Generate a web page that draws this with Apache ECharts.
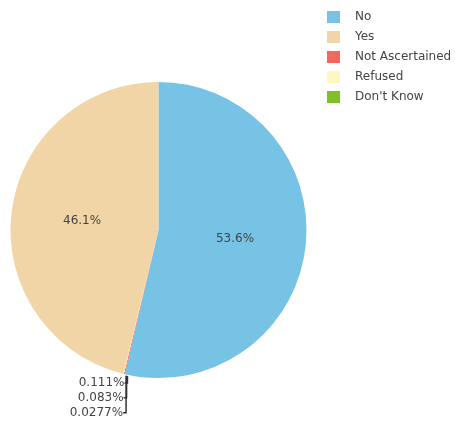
<!DOCTYPE html>
<html>
<head>
<meta charset="utf-8">
<script src="https://cdn.jsdelivr.net/npm/echarts@6/dist/echarts.min.js"></script>
<style>
  html, body { margin: 0; padding: 0; background: #fff; }
  #chart { width: 455px; height: 421px; }
</style>
</head>
<body>
<div id="chart"></div>
<script>
// Response categories in slice order (clockwise from 12 o'clock)
const sliceNames = ['No', 'Not Ascertained', 'Refused', "Don't Know", 'Yes'];
// Share of responses, percent
const sliceValues = [53.64, 0.111, 0.083, 0.0277, 46.14];
// Legend order
const legendNames = ['No', 'Yes', 'Not Ascertained', 'Refused', "Don't Know"];
const sliceColors = {
  'No': '#77c3e6',
  'Yes': '#f1d5a6',
  'Not Ascertained': '#f4685b',
  'Refused': '#fff7c2',
  "Don't Know": '#7fbf27'
};

const total = sliceValues.reduce((a, b) => a + b, 0);
function fmtPct(v) {
  const p = v / total * 100;
  // three significant figures
  return Number(p.toPrecision(3)).toString() + '%';
}

const smallIdx = [];
const data = sliceNames.map((name, i) => {
  const small = sliceValues[i] / total < 0.01;
  if (small) smallIdx.push(i);
  return {
    name: name,
    value: sliceValues[i],
    itemStyle: { color: sliceColors[name] },
    label: {
      show: true,
      position: small ? 'outside' : 'inside',
      formatter: () => fmtPct(sliceValues[i])
    },
    labelLine: { show: small, length: 4, length2: 4 }
  };
});

const chart = echarts.init(document.getElementById('chart'), null, { renderer: 'canvas' });
chart.setOption({
  animation: false,
  textStyle: { fontFamily: 'DejaVu Sans' },
  legend: {
    data: legendNames,
    orient: 'vertical',
    left: 322,
    top: 6,
    itemWidth: 13,
    itemHeight: 12,
    itemGap: 8,
    icon: 'rect',
    textStyle: {
      fontFamily: 'DejaVu Sans',
      fontSize: 12,
      color: '#444',
      lineHeight: 12,
      padding: [0, 0, 0, 10]
    }
  },
  series: [{
    type: 'pie',
    center: [158.5, 230],
    radius: 148,
    startAngle: 90,
    clockwise: true,
    avoidLabelOverlap: false,
    data: data,
    itemStyle: { borderWidth: 0 },
    label: {
      fontFamily: 'DejaVu Sans',
      fontSize: 12,
      color: '#444'
    },
    labelLine: {
      lineStyle: { color: '#333', width: 1.5 }
    },
    // stack the tiny-slice labels beneath their common edge point
    labelLayout: function (params) {
      const k = smallIdx.indexOf(params.dataIndex);
      if (k < 0 || !params.labelLinePoints) return {};
      const p0 = params.labelLinePoints[0];
      const lx = p0[0] + 3;
      const y = p0[1] + 9 + k * 15;
      return {
        x: lx - 3,
        y: y,
        align: 'right',
        verticalAlign: 'middle',
        labelLinePoints: [[lx, p0[1] + 2], [lx, y], [lx - 3, y]]
      };
    }
  }]
});
</script>
</body>
</html>
